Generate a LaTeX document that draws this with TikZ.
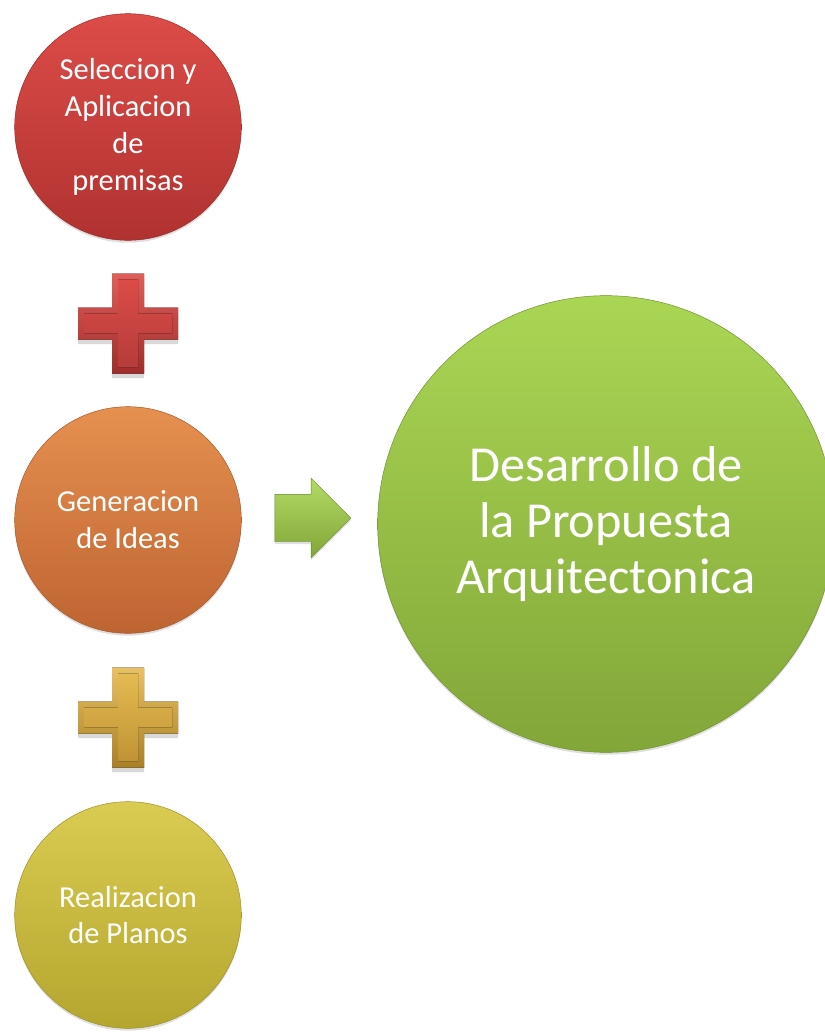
\documentclass[tikz,border=0pt]{standalone}
\usepackage{fontspec}
\setmainfont{Carlito}
\usetikzlibrary{shapes.arrows,shadows}

\definecolor{redTop}{RGB}{220,76,72}
\definecolor{redBot}{RGB}{176,50,48}
\definecolor{orgTop}{RGB}{230,144,80}
\definecolor{orgBot}{RGB}{190,100,50}
\definecolor{ylwTop}{RGB}{218,204,82}
\definecolor{ylwBot}{RGB}{180,166,46}
\definecolor{gldTop}{RGB}{228,186,82}
\definecolor{gldBot}{RGB}{188,142,42}
\definecolor{grnTop}{RGB}{170,214,84}
\definecolor{grnBot}{RGB}{130,166,56}

\tikzset{
  ball/.style={circle, inner sep=0pt, minimum size=6.8cm, text=white, align=center,
    font=\fontsize{26}{31.5}\selectfont,
    drop shadow={opacity=0.25, shadow xshift=0pt, shadow yshift=-2pt}},
  bigball/.style={ball, minimum size=13.7cm, font=\fontsize{43}{48}\selectfont}
}

\begin{document}
\begin{tikzpicture}[x=0.03cm, y=-0.03cm]
\useasboundingbox (0,0) rectangle (825,1032);

\node[ball, top color=redTop, bottom color=redBot, draw=redBot!85!black] (sel) at (128,127)
  {Seleccion y\\Aplicacion\\de\\premisas};
\node[ball, top color=orgTop, bottom color=orgBot, draw=orgBot!85!black] (gen) at (128,520)
  {Generacion\\de Ideas};
\node[ball, top color=ylwTop, bottom color=ylwBot, draw=ylwBot!85!black] (rea) at (128,915)
  {Realizacion\\de Planos};
\node[bigball, top color=grnTop, bottom color=grnBot, draw=grnBot!85!black] (des) at (606,524)
  {Desarrollo de\\la Propuesta\\Arquitectonica};

\path (sel) -- (gen) coordinate[midway] (plus1);
\path (gen) -- (rea) coordinate[midway] (plus2);

% plus signs
\foreach \pc/\ca/\cb in {plus1/redTop/redBot, plus2/gldTop/gldBot} {
  \fill[top color=\ca!90!white, bottom color=\cb!90!black,
    drop shadow={opacity=0.3, shadow xshift=0pt, shadow yshift=-4pt}]
    ([shift={(-16,-50)}]\pc) -- ++(32,0) -- ++(0,34) -- ++(34,0) -- ++(0,32) -- ++(-34,0)
    -- ++(0,34) -- ++(-32,0) -- ++(0,-34) -- ++(-34,0) -- ++(0,-32) -- ++(34,0) -- cycle;
  \fill[top color=\ca, bottom color=\cb!95!white]
    ([shift={(-10,-44)}]\pc) -- ++(20,0) -- ++(0,34) -- ++(34,0) -- ++(0,20) -- ++(-34,0)
    -- ++(0,34) -- ++(-20,0) -- ++(0,-34) -- ++(-34,0) -- ++(0,-20) -- ++(34,0) -- cycle;
}

% arrow
\node[single arrow, inner xsep=0pt, inner ysep=0.705cm, minimum height=2.28cm,
  single arrow head extend=0.48cm, top color=grnTop!90!white, bottom color=grnBot,
  draw=grnBot!80!black, line width=0.3pt,
  drop shadow={opacity=0.25, shadow xshift=0pt, shadow yshift=-2pt}] (arr) at (301,518) {};
\end{tikzpicture}
\end{document}
